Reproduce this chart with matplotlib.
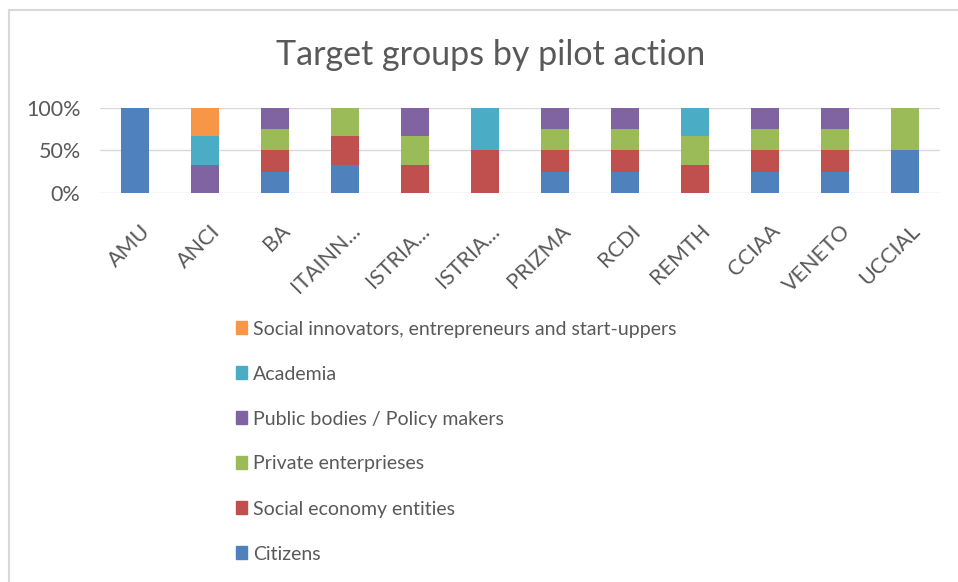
import matplotlib
matplotlib.use("Agg")
import matplotlib.pyplot as plt
import matplotlib.patches as mpatches
import matplotlib.transforms as mtransforms
from matplotlib.ticker import PercentFormatter
import numpy as np

plt.rcParams['font.family'] = ['Lato', 'DejaVu Sans']

# pilot actions and number of target groups of each kind
actions = ['AMU', 'ANCI', 'BA', 'ITAINN...', 'ISTRIA...', 'ISTRIA...',
           'PRIZMA', 'RCDI', 'REMTH', 'CCIAA', 'VENETO', 'UCCIAL']
citizens       = [1, 0, 1, 1, 0, 0, 1, 1, 0, 1, 1, 1]
social_economy = [0, 0, 1, 1, 1, 1, 1, 1, 1, 1, 1, 0]
private_ent    = [0, 0, 1, 1, 1, 0, 1, 1, 1, 1, 1, 1]
public_bodies  = [0, 1, 1, 0, 1, 0, 1, 1, 0, 1, 1, 0]
academia       = [0, 1, 0, 0, 0, 1, 0, 0, 1, 0, 0, 0]
innovators     = [0, 1, 0, 0, 0, 0, 0, 0, 0, 0, 0, 0]

series = [
    ('Citizens', citizens, '#4F81BD'),
    ('Social economy entities', social_economy, '#C0504D'),
    ('Private enterprieses', private_ent, '#9BBB59'),
    ('Public bodies / Policy makers', public_bodies, '#8064A2'),
    ('Academia', academia, '#4BACC6'),
    ('Social innovators, entrepreneurs and start-uppers', innovators, '#F79646'),
]

totals = np.sum([np.array(s[1]) for s in series], axis=0)

fig = plt.figure(figsize=(9.58, 5.82), dpi=100)
ax = fig.add_axes([100 / 958, 1 - 193 / 582, 840 / 958, 85 / 582])

x = np.arange(len(actions))
bottom = np.zeros(len(actions))
handles = []
for name, vals, col in series:
    share = np.array(vals) / totals
    ax.bar(x, share, 0.4, bottom=bottom, color=col, zorder=3)
    bottom += share
    handles.append(mpatches.Patch(color=col, label=name))

ax.set_xlim(-0.5, len(actions) - 0.5)
ax.set_ylim(0, 1)
ax.set_yticks([0, 0.5, 1])
ax.yaxis.set_major_formatter(PercentFormatter(1.0, decimals=0))
ax.grid(axis='y', color='#D9D9D9', lw=1, zorder=0)
ax.set_axisbelow(True)
for s in ax.spines.values():
    s.set_visible(False)
ax.tick_params(length=0, colors='#595959', labelsize=15.5, pad=14)
ax.set_xticks(x)
ax.set_xticklabels(actions, rotation=45, ha='right', rotation_mode='anchor',
                   fontsize=15.5)
ax.tick_params(axis='x', pad=20)
shift = mtransforms.ScaledTranslation(5 / 100, 0, fig.dpi_scale_trans)
for lab in ax.get_xticklabels():
    lab.set_transform(lab.get_transform() + shift)

fig.text(0.512, 1 - 55 / 582, 'Target groups by pilot action', ha='center',
         va='center', fontsize=24.5, color='#595959')

leg = fig.legend(handles=handles[::-1], loc='upper left',
                 bbox_to_anchor=(218 / 958, 1 - 303 / 582), frameon=False,
                 fontsize=14, labelcolor='#595959', handlelength=0.6,
                 handleheight=0.6, handletextpad=0.3, labelspacing=1.44)

# outer frame of the chart area
fig.patches.append(mpatches.Rectangle((9 / 958, -0.1), 1.2, 1 - 10 / 582 + 0.1,
                                      transform=fig.transFigure, fill=False,
                                      ec='#D9D9D9', lw=1.5))

fig.savefig('out.png', dpi=100)
